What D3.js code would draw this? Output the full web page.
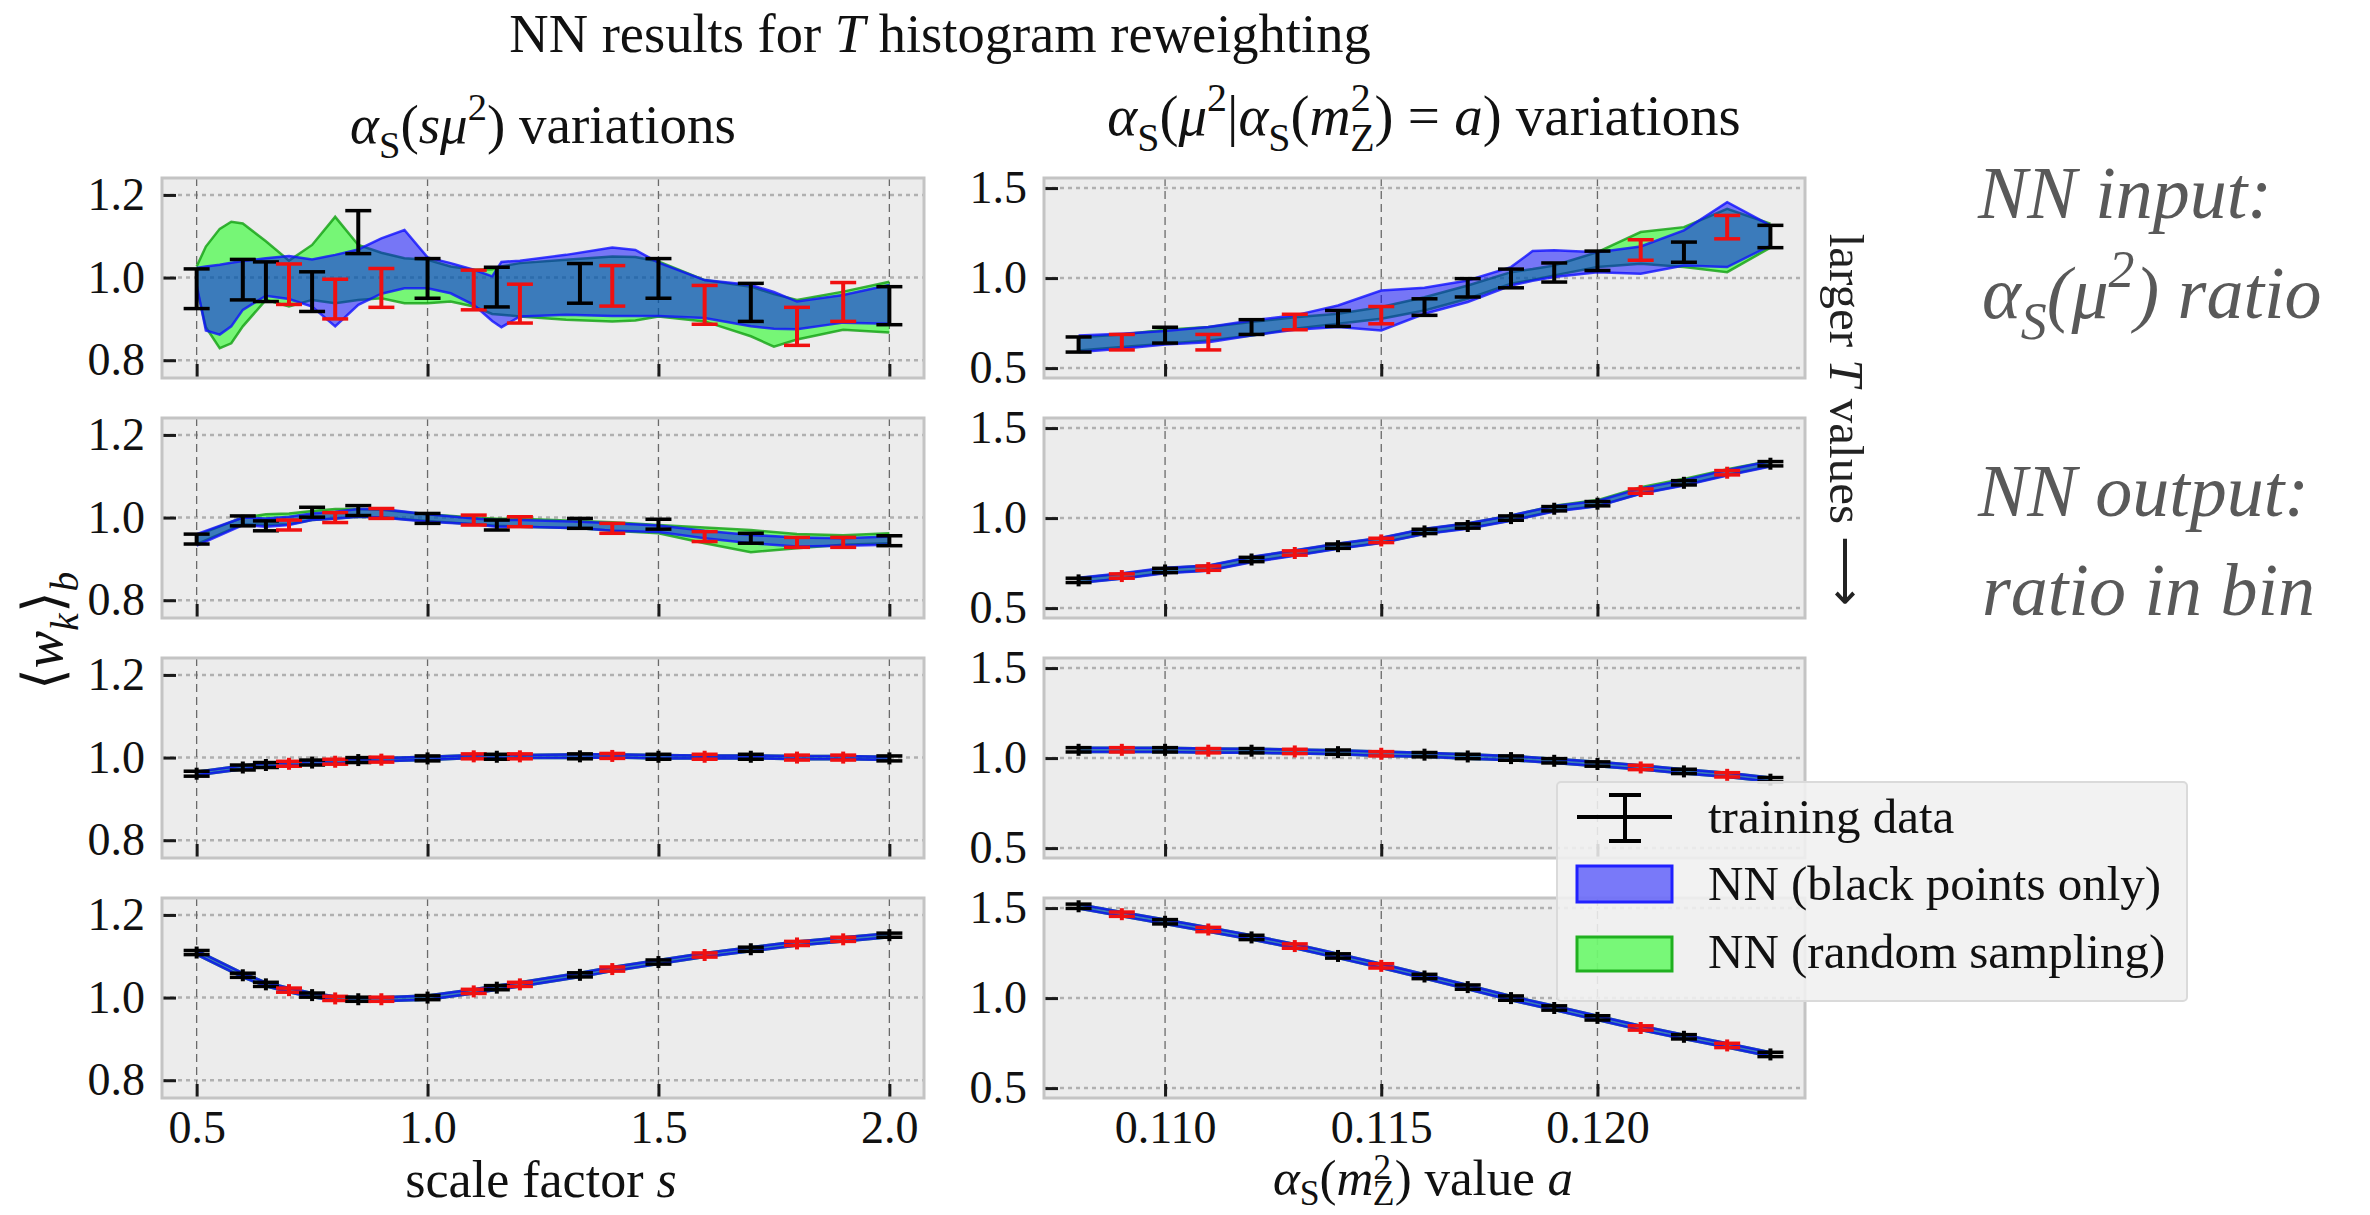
<!DOCTYPE html>
<html>
<head>
<meta charset="utf-8">
<script src="https://cdnjs.cloudflare.com/ajax/libs/d3/7.8.5/d3.min.js"></script>
<style>
  body { margin: 0; background: #fff; }
  svg text { font-family: "Liberation Serif", "Times New Roman", serif; }
</style>
</head>
<body>
<div id="chart"></div>
<script>
  // x positions of the training points (red = held out)
  var sValues = [0.5, 0.6, 0.65, 0.7, 0.75, 0.8, 0.85, 0.9, 1.0, 1.1, 1.15, 1.2, 1.33, 1.4, 1.5, 1.6, 1.7, 1.8, 1.9, 2.0];
  var sIsRed  = [0, 0, 0, 1, 0, 1, 0, 1, 0, 1, 0, 1, 0, 1, 0, 1, 0, 1, 1, 0];
  var aValues = [0.108, 0.109, 0.110, 0.111, 0.112, 0.113, 0.114, 0.115, 0.116, 0.117, 0.118, 0.119, 0.120, 0.121, 0.122, 0.123, 0.124];
  var aIsRed  = [0, 1, 0, 1, 0, 1, 0, 1, 0, 0, 0, 0, 0, 1, 0, 1, 0];

  // tick values
  var sTicks = [0.5, 1.0, 1.5, 2.0];
  var aTicks = [0.110, 0.115, 0.120];
  var sYTicks = [0.8, 1.0, 1.2];
  var aYTicks = [0.5, 1.0, 1.5];

  // left column: alpha_s(s mu^2) variations, rows top to bottom
  var sMean1 = [0.973, 0.995, 0.990, 0.984, 0.966, 0.948, 1.110, 0.975, 0.998, 0.970, 0.977, 0.937, 0.986, 0.980, 0.998, 0.934, 0.940, 0.882, 0.941, 0.932];
  var sErr1  = [0.048, 0.049, 0.048, 0.049, 0.048, 0.048, 0.052, 0.047, 0.048, 0.048, 0.048, 0.047, 0.048, 0.049, 0.048, 0.047, 0.046, 0.046, 0.047, 0.046];
  var sMean2 = [0.948, 0.992, 0.980, 0.982, 1.013, 1.000, 1.017, 1.010, 0.998, 0.994, 0.982, 0.990, 0.986, 0.974, 0.984, 0.954, 0.950, 0.940, 0.940, 0.944];
  var sErr2  = [0.012, 0.012, 0.012, 0.012, 0.012, 0.012, 0.012, 0.012, 0.012, 0.012, 0.012, 0.012, 0.012, 0.012, 0.012, 0.012, 0.012, 0.012, 0.012, 0.012];
  var sMean3 = [0.961, 0.976, 0.982, 0.985, 0.988, 0.990, 0.994, 0.995, 0.998, 1.003, 1.002, 1.003, 1.003, 1.004, 1.002, 1.002, 1.002, 1.000, 1.000, 0.998];
  var sErr3  = [0.006, 0.006, 0.006, 0.006, 0.006, 0.006, 0.006, 0.006, 0.006, 0.006, 0.006, 0.006, 0.006, 0.006, 0.006, 0.006, 0.006, 0.006, 0.006, 0.006];
  var sMean4 = [1.109, 1.054, 1.032, 1.018, 1.006, 0.998, 0.996, 0.996, 1.000, 1.015, 1.024, 1.032, 1.055, 1.069, 1.086, 1.103, 1.117, 1.131, 1.141, 1.151];
  var sErr4  = [0.005, 0.005, 0.005, 0.005, 0.005, 0.005, 0.005, 0.005, 0.005, 0.005, 0.005, 0.005, 0.005, 0.005, 0.005, 0.005, 0.005, 0.005, 0.005, 0.005];

  // right column: alpha_s(mu^2 | alpha_s(mZ^2) = a) variations
  var aMean1 = [0.631, 0.644, 0.683, 0.644, 0.728, 0.756, 0.776, 0.794, 0.839, 0.946, 0.998, 1.031, 1.096, 1.156, 1.144, 1.283, 1.231];
  var aErr1  = [0.042, 0.043, 0.044, 0.043, 0.041, 0.043, 0.044, 0.048, 0.046, 0.051, 0.052, 0.053, 0.054, 0.057, 0.056, 0.065, 0.062];
  var aMean2 = [0.654, 0.678, 0.709, 0.722, 0.770, 0.806, 0.844, 0.876, 0.926, 0.956, 1.000, 1.052, 1.080, 1.150, 1.196, 1.252, 1.302];
  var aErr2  = [0.012, 0.012, 0.012, 0.012, 0.012, 0.012, 0.012, 0.012, 0.012, 0.012, 0.012, 0.012, 0.012, 0.012, 0.012, 0.012, 0.012];
  var aMean3 = [1.046, 1.046, 1.046, 1.041, 1.041, 1.037, 1.033, 1.024, 1.019, 1.009, 1.000, 0.985, 0.967, 0.948, 0.926, 0.907, 0.880];
  var aErr3  = [0.012, 0.012, 0.012, 0.012, 0.012, 0.012, 0.012, 0.012, 0.012, 0.012, 0.012, 0.012, 0.012, 0.012, 0.012, 0.012, 0.012];
  var aMean4 = [1.510, 1.466, 1.424, 1.381, 1.337, 1.289, 1.234, 1.179, 1.120, 1.061, 1.000, 0.945, 0.890, 0.834, 0.785, 0.737, 0.687];
  var aErr4  = [0.012, 0.012, 0.012, 0.012, 0.012, 0.012, 0.012, 0.012, 0.012, 0.012, 0.012, 0.012, 0.012, 0.012, 0.012, 0.012, 0.012];

  // NN bands, top row (read on a finer grid)
  var sBandX1 = [0.5, 0.52, 0.55, 0.575, 0.6, 0.65, 0.7, 0.75, 0.8, 0.85, 0.9, 0.95, 1.0, 1.05, 1.1, 1.14, 1.16, 1.2, 1.3, 1.4, 1.45, 1.5, 1.6, 1.7, 1.75, 1.8, 1.9, 2.0];
  var sBlueHi1 = [1.023, 1.027, 1.031, 1.036, 1.040, 1.047, 1.052, 1.044, 1.055, 1.068, 1.095, 1.115, 1.049, 1.035, 1.019, 1.003, 1.038, 1.041, 1.055, 1.073, 1.067, 1.036, 0.994, 0.982, 0.965, 0.942, 0.958, 0.982];
  var sBlueLo1 = [0.982, 0.872, 0.862, 0.882, 0.922, 0.956, 0.948, 0.930, 0.882, 0.934, 0.961, 0.974, 0.974, 0.962, 0.934, 0.895, 0.880, 0.906, 0.910, 0.907, 0.907, 0.907, 0.902, 0.882, 0.876, 0.875, 0.891, 0.888];
  var sGreenHi1 = [1.027, 1.075, 1.118, 1.135, 1.131, 1.088, 1.041, 1.079, 1.147, 1.079, 1.060, 1.047, 1.043, 1.027, 1.019, 1.020, 1.027, 1.035, 1.043, 1.051, 1.050, 1.039, 0.994, 0.978, 0.960, 0.946, 0.966, 0.990];
  var sGreenLo1 = [0.975, 0.880, 0.829, 0.841, 0.882, 0.946, 0.930, 0.946, 0.938, 0.946, 0.950, 0.938, 0.938, 0.942, 0.930, 0.912, 0.910, 0.906, 0.898, 0.894, 0.896, 0.906, 0.894, 0.858, 0.833, 0.850, 0.874, 0.867];

  var aBandX1 = [0.108, 0.109, 0.110, 0.111, 0.112, 0.113, 0.114, 0.115, 0.116, 0.117, 0.118, 0.1185, 0.119, 0.120, 0.121, 0.122, 0.123, 0.124];
  var aBlueHi1 = [0.681, 0.691, 0.706, 0.728, 0.765, 0.793, 0.848, 0.931, 0.946, 0.987, 1.061, 1.150, 1.154, 1.144, 1.176, 1.265, 1.422, 1.293];
  var aBlueLo1 = [0.589, 0.607, 0.631, 0.644, 0.681, 0.713, 0.728, 0.709, 0.802, 0.867, 0.959, 0.985, 1.006, 1.033, 1.024, 1.070, 1.061, 1.181];
  var aGreenHi1 = [0.672, 0.687, 0.713, 0.728, 0.756, 0.783, 0.802, 0.839, 0.894, 0.959, 1.033, 1.050, 1.070, 1.144, 1.256, 1.283, 1.385, 1.302];
  var aGreenLo1 = [0.598, 0.617, 0.635, 0.654, 0.681, 0.719, 0.746, 0.774, 0.820, 0.885, 0.969, 0.990, 1.015, 1.061, 1.080, 1.061, 1.033, 1.169];

  // NN bands, lower rows (on the point grid)
  var sBlueHi2 = [0.960, 1.000, 0.998, 1.002, 1.010, 1.014, 1.021, 1.021, 1.008, 0.998, 0.994, 0.994, 0.990, 0.986, 0.981, 0.968, 0.958, 0.952, 0.950, 0.954];
  var sBlueLo2 = [0.932, 0.982, 0.978, 0.982, 0.994, 0.997, 1.002, 1.000, 0.990, 0.984, 0.978, 0.978, 0.974, 0.968, 0.965, 0.950, 0.938, 0.930, 0.932, 0.934];
  var sGreenHi2 = [0.957, 1.000, 1.008, 1.010, 1.016, 1.021, 1.021, 1.019, 1.008, 1.000, 0.997, 0.997, 0.992, 0.989, 0.982, 0.976, 0.970, 0.960, 0.957, 0.962];
  var sGreenLo2 = [0.936, 0.984, 0.982, 0.984, 0.994, 0.998, 1.002, 1.000, 0.992, 0.984, 0.980, 0.978, 0.974, 0.968, 0.962, 0.938, 0.916, 0.926, 0.934, 0.938];
  var sBlueHi3 = [0.966, 0.981, 0.986, 0.989, 0.992, 0.994, 0.997, 0.999, 1.002, 1.006, 1.006, 1.006, 1.008, 1.008, 1.006, 1.005, 1.005, 1.004, 1.004, 1.002];
  var sBlueLo3 = [0.957, 0.972, 0.978, 0.981, 0.984, 0.986, 0.990, 0.991, 0.994, 0.999, 0.998, 0.999, 0.999, 1.000, 0.998, 0.998, 0.998, 0.996, 0.996, 0.994];
  var sBlueHi4 = [1.114, 1.059, 1.037, 1.023, 1.011, 1.003, 1.001, 1.001, 1.005, 1.020, 1.029, 1.037, 1.060, 1.074, 1.091, 1.108, 1.122, 1.136, 1.146, 1.156];
  var sBlueLo4 = [1.104, 1.049, 1.027, 1.013, 1.001, 0.993, 0.991, 0.991, 0.995, 1.010, 1.019, 1.027, 1.050, 1.064, 1.081, 1.098, 1.112, 1.126, 1.136, 1.146];

  var aBlueHi2 = [0.669, 0.693, 0.724, 0.737, 0.785, 0.821, 0.859, 0.891, 0.941, 0.971, 1.015, 1.067, 1.095, 1.165, 1.211, 1.267, 1.317];
  var aBlueLo2 = [0.639, 0.663, 0.694, 0.707, 0.755, 0.791, 0.829, 0.861, 0.911, 0.941, 0.985, 1.037, 1.065, 1.135, 1.181, 1.237, 1.287];
  var aGreenHi2 = [0.667, 0.691, 0.722, 0.736, 0.783, 0.820, 0.858, 0.890, 0.940, 0.970, 1.014, 1.068, 1.100, 1.172, 1.218, 1.272, 1.317];
  var aGreenLo2 = [0.641, 0.665, 0.696, 0.709, 0.757, 0.793, 0.831, 0.863, 0.913, 0.943, 0.987, 1.039, 1.067, 1.137, 1.183, 1.239, 1.289];
  var aBlueHi3 = [1.058, 1.058, 1.057, 1.053, 1.052, 1.048, 1.044, 1.036, 1.030, 1.021, 1.012, 0.997, 0.979, 0.960, 0.938, 0.919, 0.892];
  var aBlueLo3 = [1.034, 1.034, 1.034, 1.029, 1.029, 1.025, 1.021, 1.012, 1.007, 0.997, 0.988, 0.973, 0.955, 0.936, 0.914, 0.895, 0.868];
  var aBlueHi4 = [1.522, 1.478, 1.436, 1.393, 1.349, 1.301, 1.246, 1.191, 1.132, 1.073, 1.012, 0.957, 0.902, 0.846, 0.797, 0.749, 0.699];
  var aBlueLo4 = [1.498, 1.454, 1.412, 1.369, 1.325, 1.277, 1.222, 1.167, 1.108, 1.049, 0.988, 0.933, 0.878, 0.822, 0.773, 0.725, 0.675];

  // layout
  var W = 2370, H = 1215;
  var SERIF = '"Liberation Serif", "Times New Roman", serif';
  var colLeft = [162, 1044], colWidth = [762, 761];
  var rowTop = [178, 418, 658, 898], rowH = 200;
  var xDomains = [[0.425, 2.075], [0.1072, 0.1248]];
  var yDomains = [[0.757, 1.241], [0.445, 1.556]];

  var svg = d3.select("#chart").append("svg")
      .attr("width", W)
      .attr("height", H)
      .style("background", "#fff");

  // text node with the serif font set inline
  function label(parent, size, fill) {
    return parent.append("text")
      .style("font-family", SERIF)
      .style("font-size", size + "px")
      .attr("fill", fill || "#111");
  }

  // appends tspans for simple math: italic, sub and superscripts
  function rich(text, parts, size, subShift, supShift) {
    var shift = 0;
    subShift = subShift || 0.28;
    supShift = supShift || -0.42;
    parts.forEach(function(p) {
      var target = p.sub ? subShift : (p.sup ? supShift : 0);
      var ts = text.append("tspan").text(p.t)
        .attr("dy", ((target - shift) * size) + "px");
      if (p.dx) ts.attr("dx", (p.dx * size) + "px");
      if (p.sub || p.sup) ts.style("font-size", (size * 0.7) + "px");
      if (p.it) ts.style("font-style", "italic");
      shift = target;
    });
    return text;
  }

  var panels = [
    {col: 0, row: 0, mean: sMean1, err: sErr1, bx: sBandX1, bHi: sBlueHi1, bLo: sBlueLo1, gHi: sGreenHi1, gLo: sGreenLo1},
    {col: 0, row: 1, mean: sMean2, err: sErr2, bx: sValues, bHi: sBlueHi2, bLo: sBlueLo2, gHi: sGreenHi2, gLo: sGreenLo2},
    {col: 0, row: 2, mean: sMean3, err: sErr3, bx: sValues, bHi: sBlueHi3, bLo: sBlueLo3, gHi: sBlueHi3, gLo: sBlueLo3},
    {col: 0, row: 3, mean: sMean4, err: sErr4, bx: sValues, bHi: sBlueHi4, bLo: sBlueLo4, gHi: sBlueHi4, gLo: sBlueLo4},
    {col: 1, row: 0, mean: aMean1, err: aErr1, bx: aBandX1, bHi: aBlueHi1, bLo: aBlueLo1, gHi: aGreenHi1, gLo: aGreenLo1},
    {col: 1, row: 1, mean: aMean2, err: aErr2, bx: aValues, bHi: aBlueHi2, bLo: aBlueLo2, gHi: aGreenHi2, gLo: aGreenLo2},
    {col: 1, row: 2, mean: aMean3, err: aErr3, bx: aValues, bHi: aBlueHi3, bLo: aBlueLo3, gHi: aBlueHi3, gLo: aBlueLo3},
    {col: 1, row: 3, mean: aMean4, err: aErr4, bx: aValues, bHi: aBlueHi4, bLo: aBlueLo4, gHi: aBlueHi4, gLo: aBlueLo4}
  ];

  function drawPanel(p, i) {
    var left = colLeft[p.col], w = colWidth[p.col], top = rowTop[p.row];
    var xs = p.col ? aValues : sValues;
    var red = p.col ? aIsRed : sIsRed;

    var x = d3.scaleLinear().domain(xDomains[p.col]).range([left, left + w]);
    var y = d3.scaleLinear().domain(yDomains[p.col]).range([top + rowH, top]);

    var g = svg.append("g").attr("class", "panel");

    g.append("clipPath").attr("id", "clip" + i)
      .append("rect").attr("x", left).attr("y", top).attr("width", w).attr("height", rowH);

    g.append("rect")
      .attr("x", left).attr("y", top)
      .attr("width", w).attr("height", rowH)
      .attr("fill", "#ececec");

    // grid
    g.selectAll(".hgrid").data(p.col ? aYTicks : sYTicks).enter().append("line")
      .attr("x1", left).attr("x2", left + w)
      .attr("y1", function(d) { return y(d); }).attr("y2", function(d) { return y(d); })
      .attr("stroke", "#b0b0b0").attr("stroke-width", 2.5).attr("stroke-dasharray", "4,4");
    g.selectAll(".vgrid").data(p.col ? aTicks : sTicks).enter().append("line")
      .attr("y1", top).attr("y2", top + rowH)
      .attr("x1", function(d) { return x(d); }).attr("x2", function(d) { return x(d); })
      .attr("stroke", "#6a6a6a").attr("stroke-width", 1.3).attr("stroke-dasharray", "8,5");

    var plot = g.append("g").attr("clip-path", "url(#clip" + i + ")");

    // NN bands, green first then blue on top
    function band(hi, lo, color, edge) {
      var area = d3.area()
        .x(function(d, k) { return x(p.bx[k]); })
        .y0(function(d, k) { return y(lo[k]); })
        .y1(function(d, k) { return y(hi[k]); });
      var line = d3.line().x(function(d, k) { return x(p.bx[k]); }).y(function(d) { return y(d); });
      plot.append("path").datum(hi).attr("d", area)
        .attr("fill", color).attr("fill-opacity", 0.5);
      plot.append("path").datum(hi).attr("d", line)
        .attr("fill", "none").attr("stroke", edge).attr("stroke-width", 2.5).attr("stroke-opacity", 0.8);
      plot.append("path").datum(lo).attr("d", line)
        .attr("fill", "none").attr("stroke", edge).attr("stroke-width", 2.5).attr("stroke-opacity", 0.8);
    }
    band(p.gHi, p.gLo, "#00ff00", "#10a010");
    band(p.bHi, p.bLo, "#0000ff", "#1010ff");

    // error bars
    var pts = plot.selectAll(".pt").data(p.mean).enter().append("g")
      .attr("stroke", function(d, k) { return red[k] ? "#f01010" : "#000"; })
      .attr("stroke-width", 4);
    pts.append("line")
      .attr("x1", function(d, k) { return x(xs[k]); }).attr("x2", function(d, k) { return x(xs[k]); })
      .attr("y1", function(d, k) { return Math.min(y(d + p.err[k]), y(d) - 6); })
      .attr("y2", function(d, k) { return Math.max(y(d - p.err[k]), y(d) + 6); });
    [1, -1].forEach(function(sgn) {
      pts.append("line")
        .attr("x1", function(d, k) { return x(xs[k]) - 13; }).attr("x2", function(d, k) { return x(xs[k]) + 13; })
        .attr("y1", function(d, k) { return y(d + sgn * p.err[k]); })
        .attr("y2", function(d, k) { return y(d + sgn * p.err[k]); })
        .attr("stroke-width", 3.5);
    });

    // axes with inward ticks
    var yAxis = d3.axisLeft(y).tickValues(p.col ? aYTicks : sYTicks)
      .tickSize(-14).tickPadding(17).tickFormat(d3.format(".1f"));
    var xAxis = d3.axisBottom(x).tickValues(p.col ? aTicks : sTicks)
      .tickSize(-14).tickPadding(12)
      .tickFormat(p.row === 3 ? d3.format(p.col ? ".3f" : ".1f") : function() { return ""; });

    [g.append("g").attr("transform", "translate(" + left + ",0)").call(yAxis),
     g.append("g").attr("transform", "translate(0," + (top + rowH) + ")").call(xAxis)]
      .forEach(function(a) {
        a.attr("font-family", null).attr("font-size", null);
        a.select(".domain").remove();
        a.selectAll("line").attr("stroke", "#1a1a1a").attr("stroke-width", 3);
        a.selectAll("text")
          .style("font-family", SERIF)
          .style("font-size", "46px")
          .attr("fill", "#111");
      });

    g.append("rect")
      .attr("x", left).attr("y", top)
      .attr("width", w).attr("height", rowH)
      .attr("fill", "none").attr("stroke", "#c4c4c4").attr("stroke-width", 3);
  }

  panels.forEach(drawPanel);

  // titles and axis labels
  rich(label(svg, 54.5).attr("x", 940).attr("y", 52).attr("text-anchor", "middle"),
    [{t: "NN results for "}, {t: "T", it: true}, {t: " histogram reweighting"}], 54.5);

  rich(label(svg, 55).attr("x", 543).attr("y", 143).attr("text-anchor", "middle"),
    [{t: "α", it: true}, {t: "S", sub: true}, {t: "("}, {t: "sμ", it: true}, {t: "2", sup: true}, {t: ") variations"}], 55);

  rich(label(svg, 57).attr("x", 1424).attr("y", 135).attr("text-anchor", "middle"),
    [{t: "α", it: true}, {t: "S", sub: true}, {t: "("}, {t: "μ", it: true}, {t: "2", sup: true}, {t: "|"},
     {t: "α", it: true}, {t: "S", sub: true}, {t: "("}, {t: "m", it: true}, {t: "2", sup: true}, {t: "Z", sub: true, dx: -0.36},
     {t: ") = "}, {t: "a", it: true}, {t: ") variations"}], 57);

  rich(label(svg, 52).attr("x", 541).attr("y", 1197).attr("text-anchor", "middle"),
    [{t: "scale factor "}, {t: "s", it: true}], 52);

  rich(label(svg, 51).attr("x", 1423).attr("y", 1195).attr("text-anchor", "middle"),
    [{t: "α", it: true}, {t: "S", sub: true}, {t: "("}, {t: "m", it: true}, {t: "2", sup: true}, {t: "Z", sub: true, dx: -0.36},
     {t: ") value "}, {t: "a", it: true}], 51, 0.2, -0.32);

  rich(label(svg, 56).attr("transform", "translate(62,631) rotate(-90)").attr("text-anchor", "middle"),
    [{t: "⟨"}, {t: "w", it: true}, {t: "k", it: true, sub: true}, {t: "⟩"}, {t: "b", it: true, sub: true}], 56);

  rich(label(svg, 49, "#222").attr("transform", "translate(1830,420) rotate(90)").attr("text-anchor", "middle"),
    [{t: "larger "}, {t: "T", it: true}, {t: " values ⟶"}], 49);

  // side notes
  var note = svg.append("g");
  function noteText(xp, yp) {
    return label(note, 74, "#595959").style("font-style", "italic").attr("x", xp).attr("y", yp);
  }
  noteText(1978, 218).text("NN input:");
  rich(noteText(1982, 318), [{t: "α"}, {t: "S", sub: true}, {t: "(μ"}, {t: "2", sup: true}, {t: ") ratio"}], 74);
  noteText(1978, 516).text("NN output:");
  noteText(1982, 615).text("ratio in bin");

  // legend
  var legend = svg.append("g");
  legend.append("rect")
    .attr("x", 1557).attr("y", 782).attr("width", 630).attr("height", 219).attr("rx", 4)
    .attr("fill", "#f0f0f0").attr("fill-opacity", 0.88)
    .attr("stroke", "#dadada").attr("stroke-width", 2);

  var eb = legend.append("g").attr("stroke", "#000").attr("stroke-width", 4);
  eb.append("line").attr("x1", 1577).attr("x2", 1672).attr("y1", 817).attr("y2", 817);
  eb.append("line").attr("x1", 1625).attr("x2", 1625).attr("y1", 795).attr("y2", 841);
  eb.append("line").attr("x1", 1609).attr("x2", 1641).attr("y1", 795).attr("y2", 795);
  eb.append("line").attr("x1", 1609).attr("x2", 1641).attr("y1", 841).attr("y2", 841);

  legend.append("rect").attr("x", 1577).attr("y", 866).attr("width", 95).attr("height", 36)
    .attr("fill", "#0000ff").attr("fill-opacity", 0.5).attr("stroke", "#2020ff").attr("stroke-width", 3);
  legend.append("rect").attr("x", 1577).attr("y", 937).attr("width", 95).attr("height", 34)
    .attr("fill", "#00ff00").attr("fill-opacity", 0.5).attr("stroke", "#20b020").attr("stroke-width", 3);

  var legendLabels = ["training data", "NN (black points only)", "NN (random sampling)"];
  var legendBase = [833, 900, 968];
  legendLabels.forEach(function(d, k) {
    label(legend, 49).attr("x", 1708).attr("y", legendBase[k]).text(d);
  });
</script>
</body>
</html>
